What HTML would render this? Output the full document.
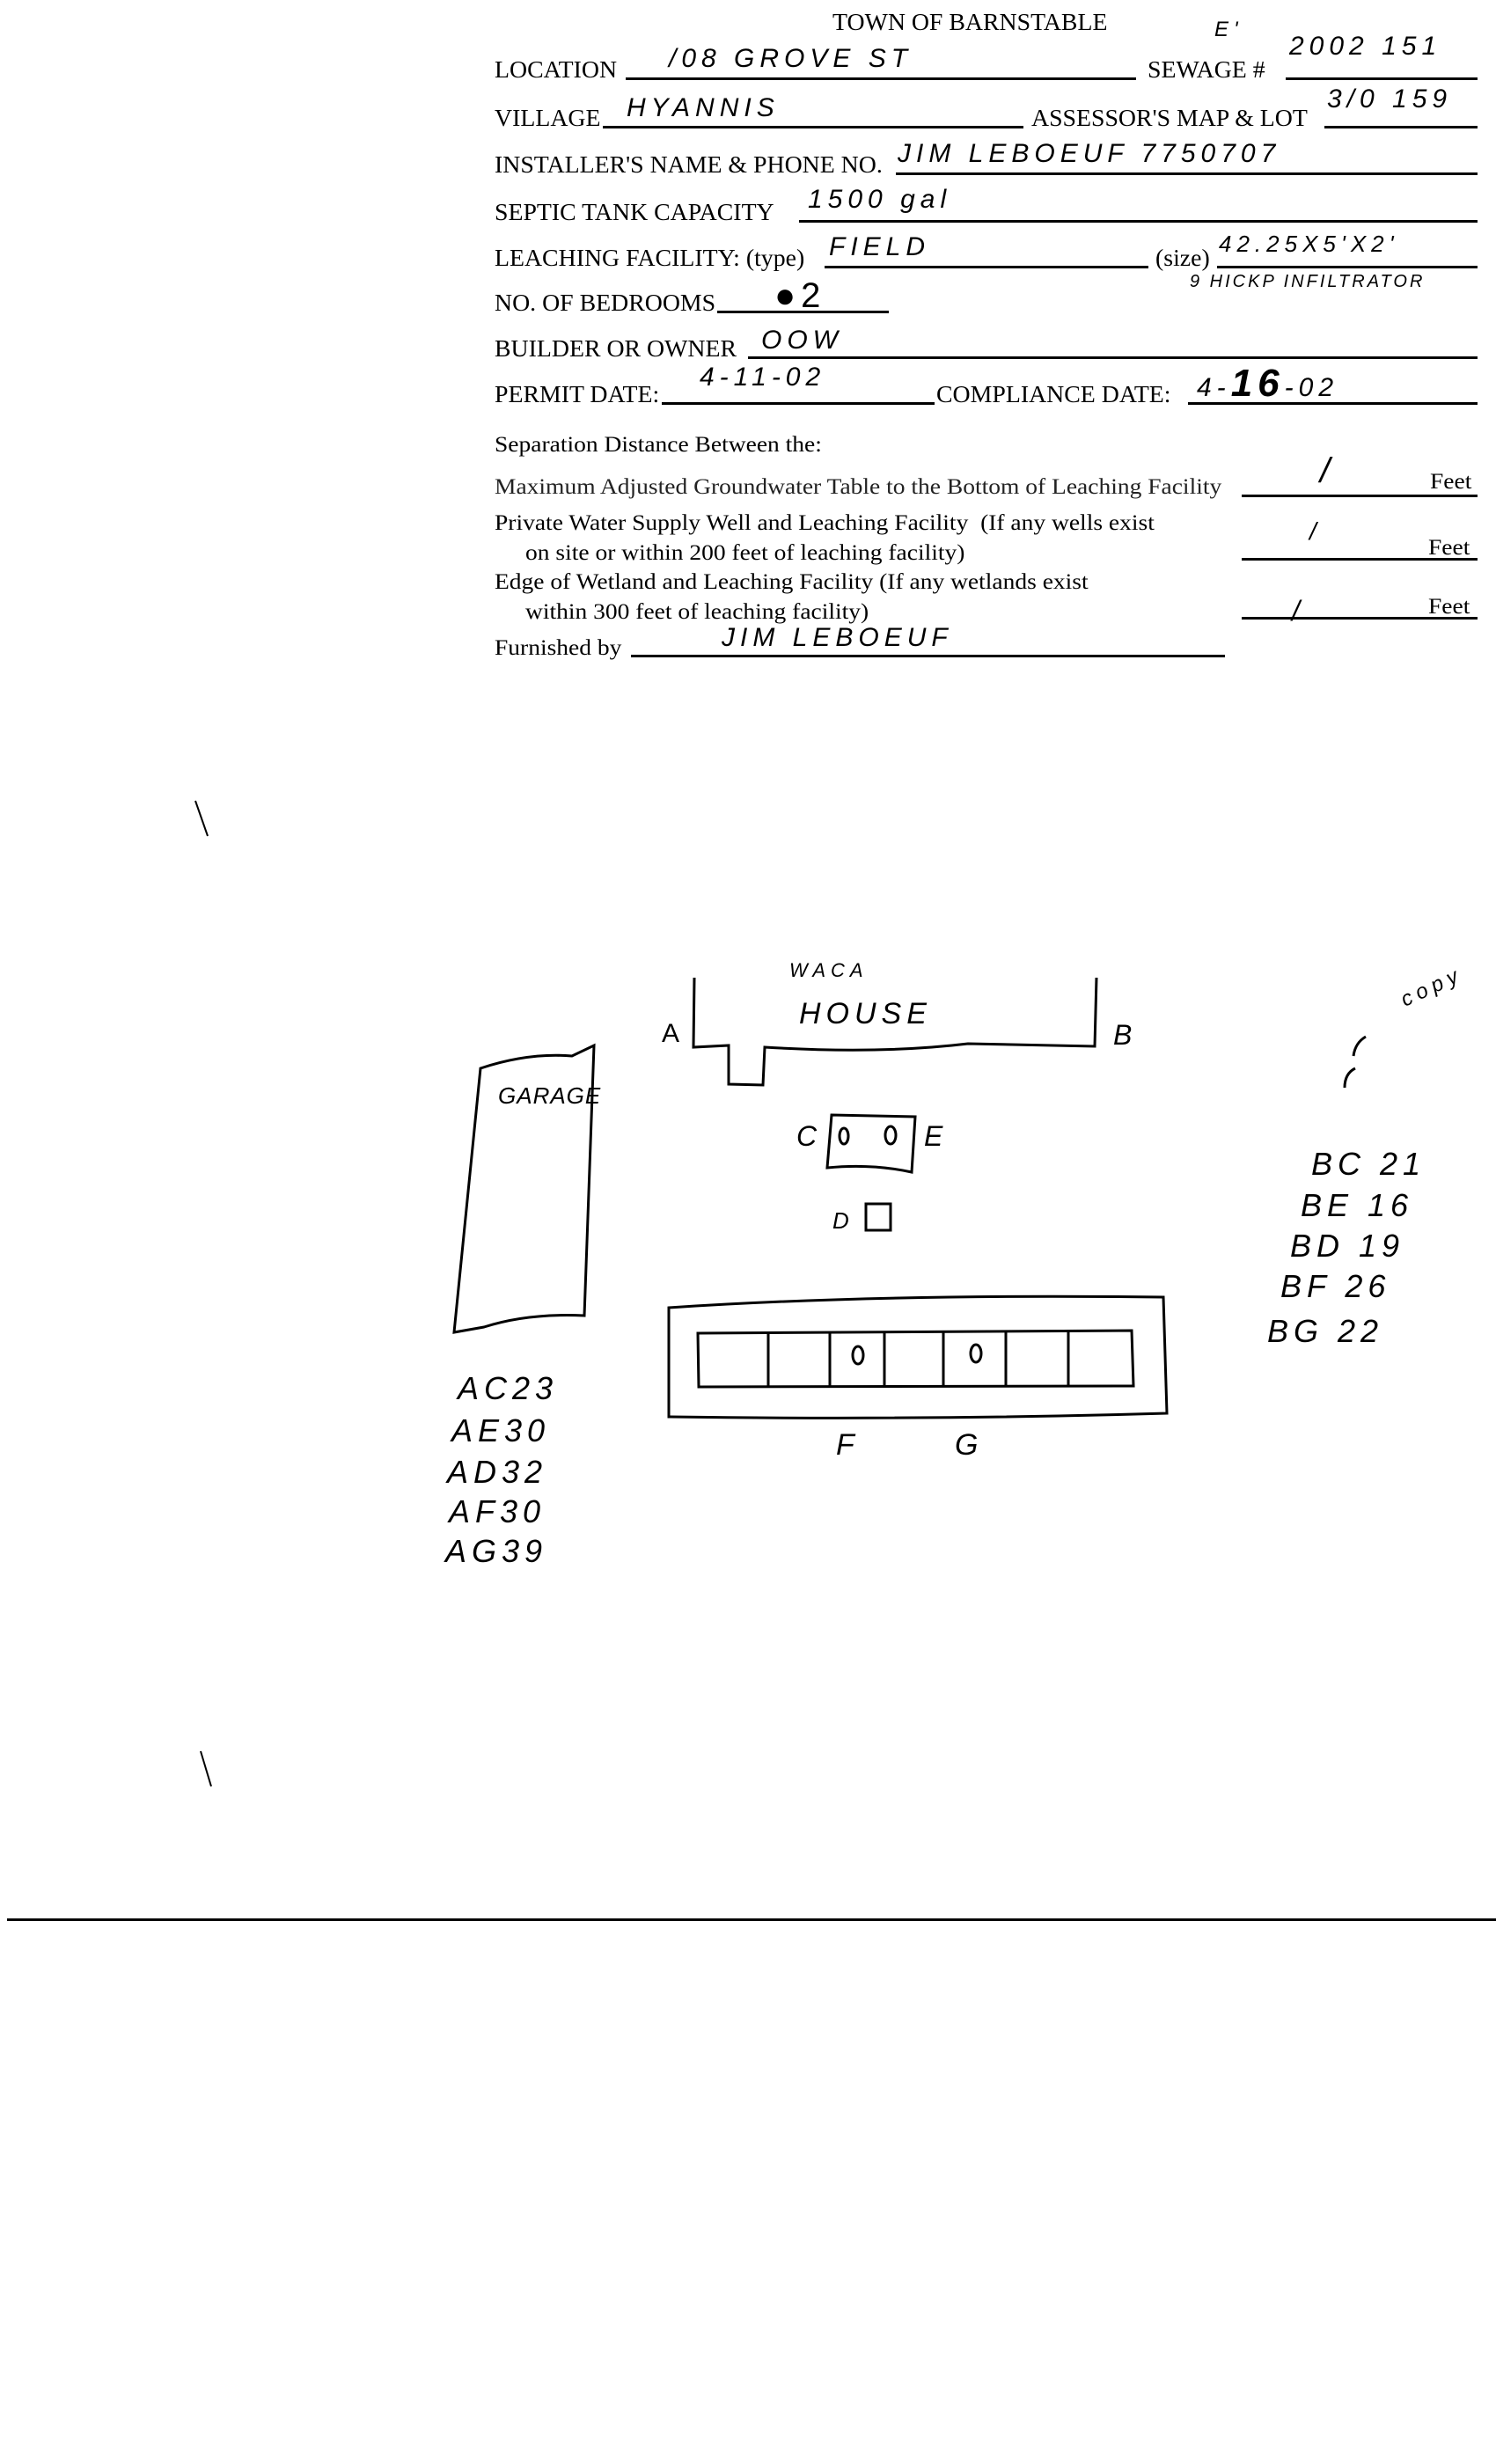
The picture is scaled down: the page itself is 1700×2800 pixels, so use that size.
<!DOCTYPE html>
<html><head><meta charset="utf-8"><style>
body{margin:0;width:1700px;height:2800px;background:#fff;position:relative;overflow:hidden;font-family:"Liberation Serif",serif;color:#000}
.t{position:absolute;font-size:27px;white-space:nowrap;line-height:1;transform:scaleX(1.03);transform-origin:left bottom}
.s{position:absolute;font-size:25px;white-space:nowrap;line-height:1;transform:scaleX(1.1);transform-origin:left bottom}
.h{position:absolute;font-family:"Liberation Sans",sans-serif;font-style:italic;font-size:30px;white-space:nowrap;line-height:1;letter-spacing:6px}
.l{position:absolute;height:3px;background:#000}
</style></head><body>
<div class="t" style="left:946px;top:12px">TOWN OF BARNSTABLE</div>

<div class="t" style="left:562px;top:66px">LOCATION</div><div class="l" style="left:711px;top:88px;width:580px"></div>
<div class="h" style="left:760px;top:52px">/08 GROVE ST</div>
<div class="t" style="left:1304px;top:66px">SEWAGE #</div><div class="l" style="left:1461px;top:88px;width:218px"></div>
<div class="h" style="left:1465px;top:38px">2002 151</div>
<div class="h" style="left:1380px;top:22px;font-size:24px">E'</div>

<div class="t" style="left:562px;top:121px">VILLAGE</div><div class="l" style="left:685px;top:143px;width:478px"></div>
<div class="h" style="left:712px;top:108px">HYANNIS</div>
<div class="t" style="left:1172px;top:121px">ASSESSOR'S MAP &amp; LOT</div><div class="l" style="left:1505px;top:143px;width:174px"></div>
<div class="h" style="left:1508px;top:98px">3/0 159</div>

<div class="t" style="left:562px;top:174px">INSTALLER'S NAME &amp; PHONE NO.</div><div class="l" style="left:1018px;top:196px;width:661px"></div>
<div class="h" style="left:1020px;top:160px">JIM LEBOEUF 7750707</div>

<div class="t" style="left:562px;top:228px">SEPTIC TANK CAPACITY</div><div class="l" style="left:908px;top:250px;width:771px"></div>
<div class="h" style="left:918px;top:212px">1500 gal</div>

<div class="t" style="left:562px;top:280px">LEACHING FACILITY: (type)</div><div class="l" style="left:937px;top:302px;width:368px"></div>
<div class="h" style="left:942px;top:266px">FIELD</div>
<div class="t" style="left:1313px;top:280px">(size)</div><div class="l" style="left:1383px;top:302px;width:296px"></div>
<div class="h" style="left:1385px;top:264px;font-size:26px">42.25X5'X2'</div>
<div class="h" style="left:1352px;top:310px;font-size:20px;letter-spacing:3px">9 HICKP INFILTRATOR</div>

<div class="t" style="left:562px;top:331px">NO. OF BEDROOMS</div><div class="l" style="left:815px;top:353px;width:195px"></div>
<div class="h" style="left:880px;top:316px;font-size:40px;font-style:normal">&#9679;2</div>

<div class="t" style="left:562px;top:383px">BUILDER OR OWNER</div><div class="l" style="left:850px;top:405px;width:829px"></div>
<div class="h" style="left:865px;top:372px">OOW</div>

<div class="t" style="left:562px;top:435px">PERMIT DATE:</div><div class="l" style="left:752px;top:457px;width:310px"></div>
<div class="h" style="left:795px;top:414px">4-11-02</div>
<div class="t" style="left:1064px;top:435px">COMPLIANCE DATE:</div><div class="l" style="left:1350px;top:457px;width:329px"></div>
<div class="h" style="left:1360px;top:414px">4-<b style="font-size:44px">16</b>-02</div>

<div class="s" style="left:562px;top:493px">Separation Distance Between the:</div>
<div class="s" style="left:562px;top:541px;color:#222">Maximum Adjusted Groundwater Table to the Bottom of Leaching Facility</div>
<div class="l" style="left:1411px;top:562px;width:268px"></div><div class="s" style="left:1625px;top:535px">Feet</div>
<div class="h" style="left:1500px;top:515px;font-size:40px">/</div>
<div class="s" style="left:562px;top:582px">Private Water Supply Well and Leaching Facility &nbsp;(If any wells exist</div>
<div class="s" style="left:597px;top:616px">on site or within 200 feet of leaching facility)</div>
<div class="l" style="left:1411px;top:634px;width:268px"></div><div class="s" style="left:1623px;top:610px">Feet</div>
<div class="h" style="left:1488px;top:590px;font-size:28px">/</div>
<div class="s" style="left:562px;top:649px">Edge of Wetland and Leaching Facility (If any wetlands exist</div>
<div class="s" style="left:597px;top:683px">within 300 feet of leaching facility)</div>
<div class="l" style="left:1411px;top:701px;width:268px"></div><div class="s" style="left:1623px;top:677px">Feet</div>
<div class="h" style="left:1468px;top:678px;font-size:32px">/</div>
<div class="s" style="left:562px;top:724px">Furnished by</div><div class="l" style="left:717px;top:744px;width:675px"></div>
<div class="h" style="left:820px;top:710px">JIM LEBOEUF</div>

<div class="l" style="left:8px;top:2180px;width:1692px;height:3px"></div>

<svg style="position:absolute;left:0;top:0" width="1700" height="2800" fill="none" stroke="#000" stroke-width="3">
<path d="M789,1111 L788,1190 L828,1188 L828,1232 L867,1233 L869,1190 Q1000,1198 1100,1186 L1244,1189 L1246,1111"/>
<path d="M546,1214 Q600,1196 650,1200 L675,1188 L664,1495 Q600,1492 550,1508 L516,1514 Z"/>
<path d="M945,1267 L1040,1269 L1036,1332 Q990,1322 940,1327 Z"/>
<rect x="984" y="1368" width="28" height="30"/>
<path d="M760,1486 Q1000,1470 1322,1474 L1326,1606 Q1050,1614 760,1610 Z"/>
<path d="M793,1515 L1286,1512 L1288,1575 L794,1576 Z"/>
<path d="M873,1515V1576M943,1515V1576M1005,1514V1576M1072,1514V1576M1143,1513V1576M1214,1512V1575"/>
<ellipse cx="975" cy="1540" rx="6" ry="10"/><ellipse cx="1109" cy="1538" rx="6" ry="10"/>
<ellipse cx="959" cy="1291" rx="5" ry="9"/><ellipse cx="1012" cy="1290" rx="6" ry="10"/>
<path d="M1540,1214 Q1528,1220 1528,1236 M1552,1178 Q1540,1185 1538,1200"/>
<path d="M222,910 L236,950 M228,1990 L240,2030" stroke-width="2"/>
</svg>
<div class="h" style="left:897px;top:1092px;font-size:22px">WACA</div>
<div class="h" style="left:908px;top:1135px;font-size:34px">HOUSE</div>
<div class="h" style="left:752px;top:1160px;font-style:normal;font-size:30px;letter-spacing:0">A</div>
<div class="h" style="left:1265px;top:1160px;font-size:32px;letter-spacing:0">B</div>
<div class="h" style="left:566px;top:1232px;font-size:26px;letter-spacing:1px">GARAGE</div>
<div class="h" style="left:905px;top:1275px;font-size:32px;letter-spacing:0">C</div>
<div class="h" style="left:1050px;top:1275px;font-size:32px;letter-spacing:0">E</div>
<div class="h" style="left:946px;top:1374px;font-size:26px;letter-spacing:0">D</div>
<div class="h" style="left:950px;top:1625px;font-size:34px;letter-spacing:0">F</div>
<div class="h" style="left:1085px;top:1625px;font-size:34px;letter-spacing:0">G</div>
<div class="h" style="left:1590px;top:1110px;font-size:24px;transform:rotate(-25deg)">copy</div>
<div class="h" style="left:520px;top:1560px;font-size:36px">AC23</div>
<div class="h" style="left:513px;top:1608px;font-size:36px">AE30</div>
<div class="h" style="left:508px;top:1655px;font-size:36px">AD32</div>
<div class="h" style="left:510px;top:1700px;font-size:36px">AF30</div>
<div class="h" style="left:506px;top:1745px;font-size:36px">AG39</div>
<div class="h" style="left:1490px;top:1305px;font-size:36px">BC 21</div>
<div class="h" style="left:1478px;top:1352px;font-size:36px">BE 16</div>
<div class="h" style="left:1466px;top:1398px;font-size:36px">BD 19</div>
<div class="h" style="left:1455px;top:1444px;font-size:36px">BF 26</div>
<div class="h" style="left:1440px;top:1495px;font-size:36px">BG 22</div>
</body></html>
